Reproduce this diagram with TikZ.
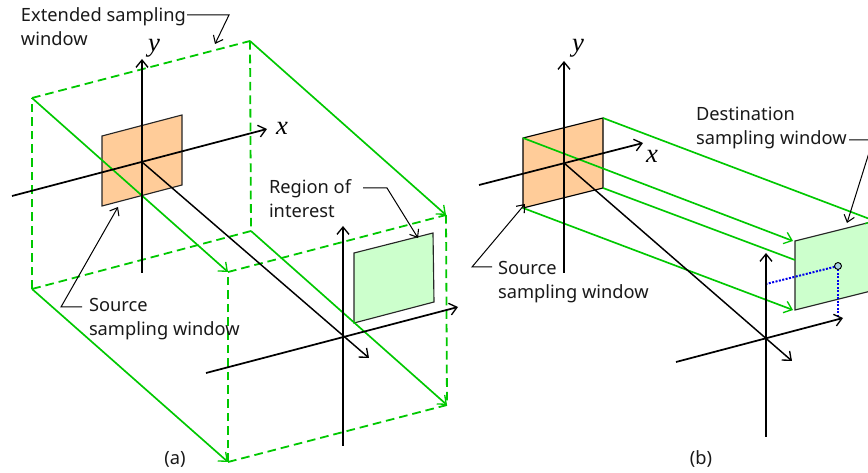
\documentclass[tikz,border=0pt]{standalone}
\usepackage{fontspec}
\setmainfont{Noto Sans}
\newfontfamily\axisfont{Liberation Serif}
\usetikzlibrary{arrows.meta}
\definecolor{wingreen}{RGB}{0,200,0}
\definecolor{srcfill}{RGB}{255,204,153}
\definecolor{dstfill}{RGB}{204,255,204}
\definecolor{inkgray}{RGB}{25,25,25}
\definecolor{dotfill}{RGB}{170,210,225}
\definecolor{dotblue}{RGB}{0,0,235}
\tikzset{
  barb/.tip={Straight Barb[length=5.5pt,width=9pt,line width=1pt]},
  thinbarb/.tip={Straight Barb[length=5pt,width=8pt,line width=0.8pt]},
  axisline/.style={draw=black,line width=1.3pt,-barb},
  depthline/.style={draw=black,line width=1.1pt,-barb},
  winsolid/.style={draw=wingreen,line width=1.25pt},
  winarrow/.style={winsolid,-barb},
  windash/.style={draw=wingreen,line width=1.35pt,dash pattern=on 6.5pt off 3.7pt},
  plate/.style={draw=black!85,line width=0.85pt},
  leader/.style={draw=black,line width=0.75pt,-thinbarb},
  dotline/.style={draw=dotblue,line width=1.5pt,dash pattern=on 1.5pt off 1.1pt},
  lbl/.style={anchor=north west,inner sep=0pt,outer sep=0pt,align=left,text=inkgray,font=\fontsize{13.7pt}{18pt}\selectfont},
  axlbl/.style={inner sep=0pt,font=\axisfont\itshape\fontsize{20pt}{20pt}\selectfont},
  captxt/.style={inner sep=0pt,text=inkgray,font=\fontsize{13.7pt}{18pt}\selectfont},
}
\begin{document}
\begin{tikzpicture}[x=0.75pt,y=-0.75pt]
\path[use as bounding box,clip] (0,0) rectangle (868,473);
% ---- panel (a)
\coordinate (bA) at (32,98); \coordinate (bB) at (250,41); \coordinate (bC) at (251,231); \coordinate (bD) at (32,289);
\coordinate (fA) at (228,272); \coordinate (fB) at (446,215); \coordinate (fC) at (447,405); \coordinate (fD) at (228,462);
\coordinate (sA) at (102,136); \coordinate (sB) at (182,115); \coordinate (sC) at (182,185); \coordinate (sD) at (102,206);
\coordinate (rA) at (354,253); \coordinate (rB) at (433,233); \coordinate (rC) at (434,302); \coordinate (rD) at (354,323);
\coordinate (xa0) at (12,196); \coordinate (xa1) at (267,129);
\coordinate (ya0) at (142,273); \coordinate (ya1) at (142,59);
\coordinate (oa) at (142,162); \coordinate (za1) at (369,358);
\coordinate (xb0) at (206,373); \coordinate (xb1) at (458,307);
\coordinate (yb0) at (343,446); \coordinate (yb1) at (343,226);
\fill[srcfill] (sA) -- (sB) -- (sC) -- (sD) -- cycle;
\draw[plate] (sA) -- (sB) -- (sC) -- (sD) -- cycle;
\fill[dstfill] (rA) -- (rB) -- (rC) -- (rD) -- cycle;
\draw[plate] (rA) -- (rB) -- (rC) -- (rD) -- cycle;
\draw[windash] (bA) -- (bB); \draw[windash] (bB) -- (bC); \draw[windash] (bC) -- (bD); \draw[windash] (bD) -- (bA);
\draw[windash] (fA) -- (fB); \draw[windash] (fB) -- (fC); \draw[windash] (fC) -- (fD); \draw[windash] (fD) -- (fA);
\draw[winarrow] (bA) -- (fA); \draw[winarrow] (bB) -- (fB); \draw[winarrow] (bC) -- (fC); \draw[winarrow] (bD) -- (fD);
\draw[axisline] (xa0) -- (xa1); \draw[axisline] (ya0) -- (ya1); \draw[depthline] (oa) -- (za1);
\draw[axisline] (xb0) -- (xb1); \draw[axisline] (yb0) -- (yb1);
\node[axlbl] (ylA) at (154,48) {y};
\node[axlbl] (xlA) at (282,128) {x};
\node[lbl] (extL) at (21,7.5) {Extended sampling\\window};
\coordinate (e1) at (187,15); \coordinate (e2) at (229,15); \coordinate (e3) at (215,44);
\draw[leader] (e1) -- (e2) -- (e3);
\node[lbl] (srcA) at (89,298.5) {Source\\sampling window};
\coordinate (s1) at (82,307); \coordinate (s2) at (61,307); \coordinate (s3) at (118,207);
\draw[leader] (s1) -- (s2) -- (s3);
\node[lbl] (roi) at (269,179.5) {Region of\\interest};
\coordinate (r1) at (363,188); \coordinate (r2) at (387,188); \coordinate (r3) at (418,238);
\draw[leader] (r1) -- (r2) -- (r3);
\node[captxt] (capA) at (175,459) {(a)};
% ---- panel (b)
\coordinate (tA) at (523,138); \coordinate (tB) at (603,118); \coordinate (tC) at (603,188); \coordinate (tD) at (523,208);
\coordinate (dA) at (795,241); \coordinate (dB) at (875,221); \coordinate (dC) at (875,290); \coordinate (dD) at (795,310);
\coordinate (dA2) at (793,241); \coordinate (dE) at (795,260); \coordinate (dD2) at (793,310);
\coordinate (xc0) at (479,185); \coordinate (xc1) at (643,143);
\coordinate (yc0) at (564,273); \coordinate (yc1) at (564,61);
\coordinate (oc) at (564,163); \coordinate (zc1) at (792,361);
\coordinate (xd0) at (676,362); \coordinate (xd1) at (843,318);
\coordinate (yd0) at (766,437); \coordinate (yd1) at (766,253);
\fill[srcfill] (tA) -- (tB) -- (tC) -- (tD) -- cycle;
\draw[plate,draw=black] (tA) -- (tB) -- (tC) -- (tD) -- cycle;
\fill[dstfill] (dA) -- (dB) -- (dC) -- (dD) -- cycle;
\draw[plate] (dA) -- (dB) -- (dC) -- (dD) -- cycle;
\draw[winarrow] (tB) -- (dB);
\draw[winarrow] (tA) -- (dA2);
\draw[winsolid] (tC) -- (dE);
\draw[winarrow] (tD) -- (dD2);
\coordinate (pt) at (838,266); \coordinate (py) at (766,284); \coordinate (px) at (838,318);
\draw[dotline] (pt) -- (py);
\draw[dotline] (pt) -- (px);
\draw[axisline] (xc0) -- (xc1); \draw[axisline] (yc0) -- (yc1); \draw[depthline] (oc) -- (zc1);
\draw[axisline] (xd0) -- (xd1); \draw[axisline] (yd0) -- (yd1);
\node[circle,draw=black,line width=0.7pt,fill=dotfill,minimum size=5.2pt,inner sep=0pt] (ptn) at (pt) {};
\node[axlbl] (ylB) at (578,48) {y};
\node[axlbl] (xlB) at (652,156) {x};
\node[lbl] (srcB) at (498,261.5) {Source\\sampling window};
\coordinate (u1) at (492,267); \coordinate (u2) at (472,267); \coordinate (u3) at (525,204);
\draw[leader] (u1) -- (u2) -- (u3);
\node[lbl] (dstL) at (696,107.5) {Destination\\sampling window};
\coordinate (v1) at (849,140); \coordinate (v2) at (873,140); \coordinate (v3) at (847,223);
\draw[leader] (v1) -- (v2) -- (v3);
\node[captxt] (capB) at (701,459) {(b)};
\end{tikzpicture}
\end{document}
